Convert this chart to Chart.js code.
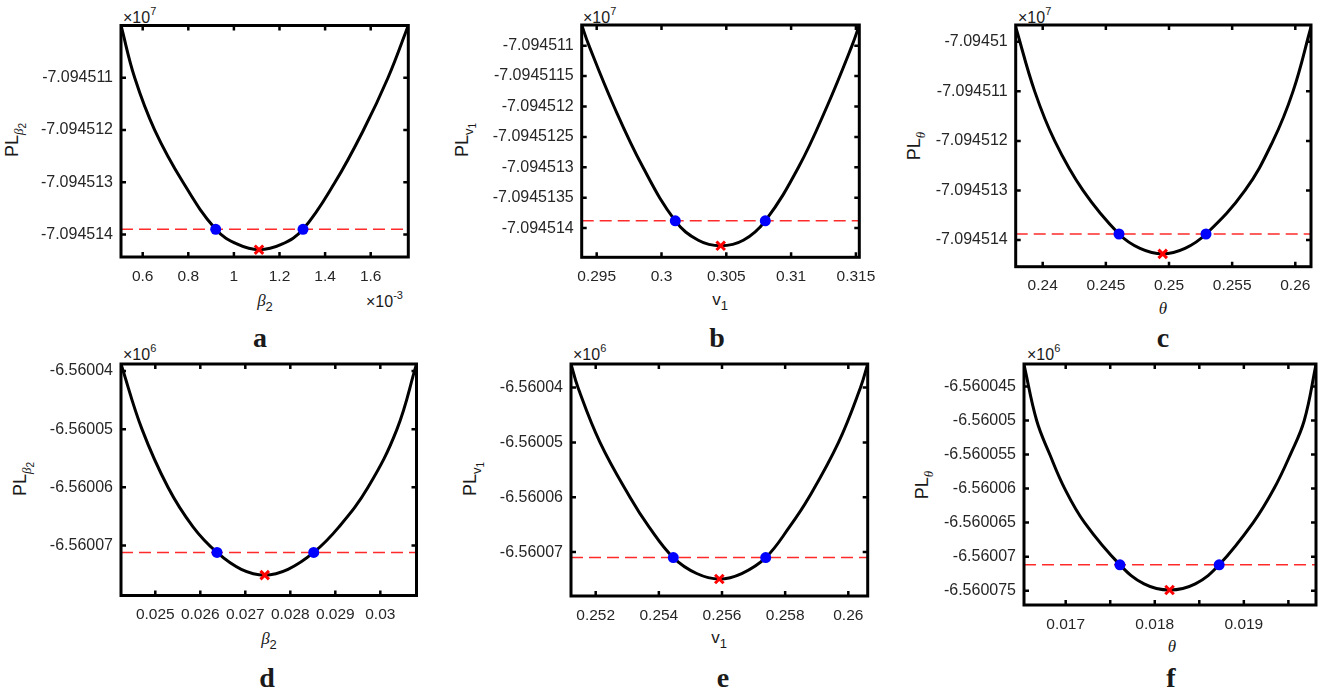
<!DOCTYPE html>
<html lang="en">
<head>
  <meta charset="UTF-8" />
  <title>Profile likelihood</title>
  <script src="https://cdn.jsdelivr.net/npm/chart.js"></script>
  <style>
    body { margin: 0; background: #fff; }
    #fig { position: relative; width: 1325px; height: 694px; overflow: hidden; }
    #fig canvas { position: absolute; }
    .t { position: absolute; font-family: 'Liberation Sans', Arial, sans-serif; color: #1a1a1a; white-space: nowrap; line-height: 1; }
    .c { transform: translate(-50%, -50%); }
    .rot { transform: translate(-50%, -50%) rotate(-90deg); font-size: 18px; }
    .xt { font-size: 17px; }
    .g { font-family: 'Liberation Serif', serif; font-style: italic; }
    .s1 { position: relative; top: 5px; font-size: 13px; }
    .s2 { position: relative; top: 3px; font-size: 10px; font-family: 'Liberation Sans', Arial, sans-serif; font-style: normal; }
    .ex { font-size: 16px; line-height: 16px; }
    .ex span { position: relative; top: -8px; font-size: 11px; }
    .lt { font-family: 'Liberation Serif', serif; font-weight: bold; font-size: 28px; line-height: 28px; transform: translateX(-50%); }
  </style>
</head>
<body>
<div id="fig">
  <!-- y titles -->
  <div class="t rot" style="left:12px;top:140px">PL<span class="s1"><i class="g">β</i><span class="s2">2</span></span></div>
  <div class="t rot" style="left:462px;top:140px">PL<span class="s1">v<span class="s2">1</span></span></div>
  <div class="t rot" style="left:914px;top:146px">PL<span class="s1"><i class="g">θ</i></span></div>
  <div class="t rot" style="left:20px;top:479px">PL<span class="s1"><i class="g">β</i><span class="s2">2</span></span></div>
  <div class="t rot" style="left:470px;top:479px">PL<span class="s1">v<span class="s2">1</span></span></div>
  <div class="t rot" style="left:922px;top:485px">PL<span class="s1"><i class="g">θ</i></span></div>

  <!-- x titles -->
  <div class="t c xt" style="left:265px;top:300px"><i class="g">β</i><span class="s1">2</span></div>
  <div class="t c xt" style="left:720px;top:299px">v<span class="s1">1</span></div>
  <div class="t c xt" style="left:1163px;top:308px"><i class="g">θ</i></div>
  <div class="t c xt" style="left:269px;top:638px"><i class="g">β</i><span class="s1">2</span></div>
  <div class="t c xt" style="left:719px;top:637px">v<span class="s1">1</span></div>
  <div class="t c xt" style="left:1172px;top:646px"><i class="g">θ</i></div>

  <!-- exponent labels -->
  <div class="t ex" style="left:123px;top:10px">×10<span>7</span></div>
  <div class="t ex" style="left:583px;top:10px">×10<span>7</span></div>
  <div class="t ex" style="left:1018px;top:10px">×10<span>7</span></div>
  <div class="t ex" style="left:366px;top:293.5px">×10<span>-3</span></div>
  <div class="t ex" style="left:123px;top:346.7px">×10<span>6</span></div>
  <div class="t ex" style="left:573px;top:346.7px">×10<span>6</span></div>
  <div class="t ex" style="left:1027px;top:346.7px">×10<span>6</span></div>

  <!-- panel letters -->
  <div class="t lt" style="left:260px;top:323.5px">a</div>
  <div class="t lt" style="left:717px;top:323.5px">b</div>
  <div class="t lt" style="left:1163px;top:323.5px">c</div>
  <div class="t lt" style="left:267px;top:663.5px">d</div>
  <div class="t lt" style="left:723px;top:663.5px">e</div>
  <div class="t lt" style="left:1171px;top:663.5px">f</div>
</div>

<script>
// a: beta_2 (x shown in units of 1e-3, y in units of 1e7)
const aCurveX = [0.5048, 0.5649, 0.6526, 0.7768, 0.9202, 1.018, 1.1101, 1.2079, 1.3031, 1.4434, 1.5684, 1.6759, 1.7649];
const aCurveY = [-7.09451, -7.094511, -7.094512, -7.094513, -7.0945139, -7.09451419, -7.09451429, -7.09451419, -7.0945139, -7.094513, -7.094512, -7.094511, -7.09451];
const aLevel = -7.0945139;
const aBlueX = [0.9202, 1.3031];
const aBest = [1.1101, -7.09451429];
const aXRange = [0.5048, 1.7649];
const aYRange = [-7.09451443, -7.09451];
const aXTicks = [0.6, 0.8, 1, 1.2, 1.4, 1.6];
const aYTicks = [-7.094514, -7.094513, -7.094512, -7.094511];

// b: v_1 (y in units of 1e7)
const bCurveX = [0.293843, 0.294406, 0.296335, 0.298573, 0.301065, 0.302839, 0.304568, 0.306312, 0.308009, 0.310571, 0.31277, 0.314699, 0.315262];
const bCurveY = [-7.09451066, -7.094511, -7.094512, -7.094513, -7.09451388, -7.0945142, -7.09451429, -7.0945142, -7.09451388, -7.094513, -7.094512, -7.094511, -7.09451066];
const bLevel = -7.09451388;
const bBlueX = [0.301065, 0.308009];
const bBest = [0.304568, -7.09451429];
const bXRange = [0.293843, 0.315262];
const bYRange = [-7.09451448, -7.09451066];
const bXTicks = [0.295, 0.3, 0.305, 0.31, 0.315];
const bYTicks = [-7.094514, -7.0945135, -7.094513, -7.0945125, -7.094512, -7.0945115, -7.094511];

// c: theta (y in units of 1e7)
const cCurveX = [0.237862, 0.239367, 0.24095, 0.243191, 0.246041, 0.247704, 0.249501, 0.251267, 0.25293, 0.256018, 0.258235, 0.259818, 0.261243];
const cCurveY = [-7.0945097, -7.094511, -7.094512, -7.094513, -7.09451388, -7.09451417, -7.09451428, -7.09451417, -7.09451388, -7.094513, -7.094512, -7.094511, -7.0945097];
const cLevel = -7.09451388;
const cBlueX = [0.246041, 0.25293];
const cBest = [0.249501, -7.09451428];
const cXRange = [0.237862, 0.261243];
const cYRange = [-7.09451454, -7.09450966];
const cXTicks = [0.24, 0.245, 0.25, 0.255, 0.26];
const cYTicks = [-7.094514, -7.094513, -7.094512, -7.094511, -7.09451];

// d: beta_2 (y in units of 1e6)
const dCurveX = [0.024238, 0.024704, 0.025282, 0.025838, 0.026371, 0.026911, 0.027431, 0.027949, 0.02852, 0.029082, 0.029727, 0.030371, 0.030804];
const dCurveY = [-6.5600388, -6.56005, -6.56006, -6.5600668, -6.5600712, -6.5600741, -6.5600751, -6.5600741, -6.5600712, -6.5600668, -6.56006, -6.56005, -6.5600388];
const dLevel = -6.5600712;
const dBlueX = [0.026371, 0.02852];
const dBest = [0.027431, -6.5600751];
const dXRange = [0.024238, 0.030804];
const dYRange = [-6.5600786, -6.5600388];
const dXTicks = [0.025, 0.026, 0.027, 0.028, 0.029, 0.03];
const dYTicks = [-6.56007, -6.56006, -6.56005, -6.56004];

// e: v_1 (y in units of 1e6)
const eCurveX = [0.251218, 0.251439, 0.252136, 0.253086, 0.253688, 0.254458, 0.255199, 0.255915, 0.256624, 0.257384, 0.258138, 0.258755, 0.25969, 0.260386, 0.260614];
const eCurveY = [-6.5600357, -6.56004, -6.56005, -6.56006, -6.5600654, -6.560071, -6.5600739, -6.5600749, -6.5600739, -6.560071, -6.5600654, -6.56006, -6.56005, -6.56004, -6.5600357];
const eLevel = -6.560071;
const eBlueX = [0.254458, 0.257384];
const eBest = [0.255915, -6.5600749];
const eXRange = [0.251218, 0.260614];
const eYRange = [-6.560078, -6.5600357];
const eXTicks = [0.252, 0.254, 0.256, 0.258, 0.26];
const eYTicks = [-6.56007, -6.56006, -6.56005, -6.56004];

// f: theta (y in units of 1e6), ticks every 0.0005 but labels on 0.001
const fCurveX = [0.016532, 0.016674, 0.016822, 0.016989, 0.017212, 0.017609, 0.01788, 0.018166, 0.018455, 0.018723, 0.019105, 0.019339, 0.019522, 0.019678, 0.01981];
const fCurveY = [-6.5600418, -6.56005, -6.560055, -6.56006, -6.560065, -6.5600712, -6.560074, -6.5600749, -6.560074, -6.5600712, -6.560065, -6.56006, -6.560055, -6.56005, -6.5600418];
const fLevel = -6.5600712;
const fBlueX = [0.017609, 0.018723];
const fBest = [0.018166, -6.5600749];
const fXRange = [0.016532, 0.01981];
const fYRange = [-6.5600771, -6.5600417];
const fXTicks = [0.017, 0.0175, 0.018, 0.0185, 0.019, 0.0195];
const fXLabels = [0.017, 0.018, 0.019];
const fYTicks = [-6.560075, -6.56007, -6.560065, -6.56006, -6.560055, -6.56005, -6.560045];

const series = {
  a: { x: aCurveX, y: aCurveY, level: aLevel, blue: aBlueX, best: aBest, xr: aXRange, yr: aYRange, xt: aXTicks, yt: aYTicks },
  b: { x: bCurveX, y: bCurveY, level: bLevel, blue: bBlueX, best: bBest, xr: bXRange, yr: bYRange, xt: bXTicks, yt: bYTicks },
  c: { x: cCurveX, y: cCurveY, level: cLevel, blue: cBlueX, best: cBest, xr: cXRange, yr: cYRange, xt: cXTicks, yt: cYTicks },
  d: { x: dCurveX, y: dCurveY, level: dLevel, blue: dBlueX, best: dBest, xr: dXRange, yr: dYRange, xt: dXTicks, yt: dYTicks },
  e: { x: eCurveX, y: eCurveY, level: eLevel, blue: eBlueX, best: eBest, xr: eXRange, yr: eYRange, xt: eXTicks, yt: eYTicks },
  f: { x: fCurveX, y: fCurveY, level: fLevel, blue: fBlueX, best: fBest, xr: fXRange, yr: fYRange, xt: fXTicks, yt: fYTicks, xl: fXLabels }
};

// page layout: plot box [left, top, right, bottom] and canvas [x, y, w, h]
const panels = [
  { key: 'a', box: [121, 25.5, 408.3, 257], area: [0, 0, 450, 330] },
  { key: 'b', box: [581.7, 25, 859.3, 257.3], area: [440, 0, 460, 330] },
  { key: 'c', box: [1015.7, 25, 1311, 266.7], area: [880, 0, 445, 330] },
  { key: 'd', box: [121, 364, 416.5, 595.5], area: [0, 335, 450, 359] },
  { key: 'e', box: [571, 364, 867.7, 596], area: [440, 335, 460, 359] },
  { key: 'f', box: [1024, 364, 1318.3, 605], area: [880, 335, 445, 359] }
];

// matlab style box with inward ticks on all four sides
const frame = {
  id: 'frame',
  afterDraw(chart) {
    const { ctx, chartArea: a, scales: { x, y } } = chart;
    const len = 5;
    ctx.save();
    ctx.strokeStyle = '#000';
    ctx.lineWidth = 2.5;
    ctx.beginPath();
    x.ticks.forEach(t => {
      const px = x.getPixelForValue(t.value);
      ctx.moveTo(px, a.bottom); ctx.lineTo(px, a.bottom - len);
      ctx.moveTo(px, a.top); ctx.lineTo(px, a.top + len);
    });
    y.ticks.forEach(t => {
      const py = y.getPixelForValue(t.value);
      ctx.moveTo(a.left, py); ctx.lineTo(a.left + len, py);
      ctx.moveTo(a.right, py); ctx.lineTo(a.right - len, py);
    });
    ctx.stroke();
    ctx.lineWidth = 3;
    ctx.strokeRect(a.left, a.top, a.right - a.left, a.bottom - a.top);
    ctx.restore();
  }
};

function noPad(s) {
  s.paddingLeft = s.paddingRight = s.paddingTop = s.paddingBottom = 0;
}

function draw(p) {
  const d = series[p.key];
  const [L, T, R, B] = p.box;
  const [cx, cy, cw, ch] = p.area;
  const cv = document.createElement('canvas');
  cv.width = cw; cv.height = ch;
  cv.style.left = cx + 'px';
  cv.style.top = cy + 'px';
  document.getElementById('fig').appendChild(cv);

  const tickFont = { family: "'Liberation Sans', Arial, sans-serif", size: 15.5 };
  new Chart(cv, {
    type: 'line',
    data: {
      datasets: [
        { data: d.blue.map(v => ({ x: v, y: d.level })), showLine: false, pointRadius: 5.5,
          pointBackgroundColor: '#0000ff', pointBorderColor: '#0000ff', pointBorderWidth: 0 },
        { data: [{ x: d.best[0], y: d.best[1] }], showLine: false, pointStyle: 'crossRot', pointRadius: 6,
          pointBorderColor: '#ff0000', pointBorderWidth: 3 },
        { data: d.xr.map(v => ({ x: v, y: d.level })), borderColor: '#ff2a2a', borderWidth: 1.5,
          borderDash: [12, 6], pointRadius: 0 },
        { data: d.x.map((v, i) => ({ x: v, y: d.y[i] })), borderColor: '#000', borderWidth: 3,
          pointRadius: 0, tension: 0.4 }
      ]
    },
    options: {
      responsive: false,
      animation: false,
      events: [],
      layout: { padding: { left: 0, top: T - cy, right: cx + cw - R, bottom: 0 } },
      plugins: { legend: { display: false }, tooltip: { enabled: false } },
      scales: {
        x: {
          type: 'linear', min: d.xr[0], max: d.xr[1],
          grid: { display: false, drawTicks: false }, border: { display: false },
          ticks: {
            autoSkip: false, maxRotation: 0, padding: 10, color: '#262626', font: tickFont,
            callback: v => (!d.xl || d.xl.some(l => Math.abs(l - v) < 1e-9)) ? String(v) : ''
          },
          afterBuildTicks: s => { s.ticks = d.xt.map(v => ({ value: v })); },
          afterFit: s => { s.height = cy + ch - B; noPad(s); }
        },
        y: {
          type: 'linear', min: d.yr[0], max: d.yr[1],
          grid: { display: false, drawTicks: false }, border: { display: false },
          ticks: { autoSkip: false, padding: 8, color: '#262626', font: { family: tickFont.family, size: 16 },
            callback: v => String(v) },
          afterBuildTicks: s => { s.ticks = d.yt.map(v => ({ value: v })); },
          afterFit: s => { s.width = L - cx; noPad(s); }
        }
      }
    },
    plugins: [frame]
  });
}

panels.forEach(draw);
</script>
</body>
</html>
